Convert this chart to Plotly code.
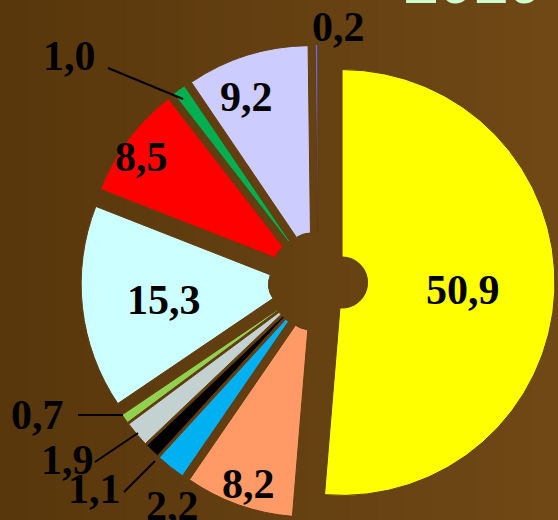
import plotly.graph_objects as go

# ---- data ----
values = [50.9, 8.2, 2.2, 1.1, 1.9, 0.7, 15.3, 8.5, 1.0, 9.2, 0.2]
colors = ["#ffff00", "#ff9966", "#00b0f0", "#000000", "#c3d1d1", "#92d050",
          "#ccffff", "#ff0000", "#00b050", "#ccccff", "#6b6bd6"]
labels = [f"{v:.1f}".replace(".", ",") for v in values]
title_text = "2010 г."

W, H = 558, 520

# label positions in pixels (layout only)
label_px = [(463, 290), (248, 484), (172, 506), (94, 489), (67, 460), (37, 415),
            (164, 300), (141, 157), (69, 56), (246, 97), (338, 27)]
# leader lines in pixels (layout only): index -> (x0, y0, x1, y1)
leaders = {3: (124, 492, 155, 461), 4: (95, 462, 138, 433), 5: (78, 415, 123, 415),
           8: (108, 68, 183, 99)}

def px(x, y):
    return x / W, 1 - y / H

fig = go.Figure()
fig.add_trace(go.Pie(
    values=values,
    labels=labels,
    marker=dict(colors=colors, line=dict(color="#603c0f", width=1)),
    sort=False,
    direction="clockwise",
    rotation=0,
    pull=[0.113] * len(values),
    hole=0.12,
    textinfo="none",
    hoverinfo="label+value",
    showlegend=False,
    domain=dict(x=[0.1452, 0.9946], y=[0.0029, 0.9144]),
))

# background gradient (decoration)
shapes = []
n = 40
c0 = (88, 55, 12)
c1 = (112, 72, 22)
for i in range(n):
    t = i / (n - 1)
    c = tuple(round(a + (b - a) * t) for a, b in zip(c0, c1))
    shapes.append(dict(type="rect", xref="paper", yref="paper",
                       x0=i / n, x1=(i + 1) / n + 0.002, y0=0, y1=1,
                       fillcolor=f"rgb{c}", line=dict(width=0), layer="below"))
for k, (x0, y0, x1, y1) in leaders.items():
    a = px(x0, y0)
    b = px(x1, y1)
    shapes.append(dict(type="line", xref="paper", yref="paper",
                       x0=a[0], y0=a[1], x1=b[0], y1=b[1],
                       line=dict(color="black", width=2), layer="above"))

annotations = []
for lab, (x, y) in zip(labels, label_px):
    p = px(x, y)
    annotations.append(dict(
        x=p[0], y=p[1], xref="paper", yref="paper", text=lab, showarrow=False,
        xanchor="center", yanchor="middle",
        font=dict(family="Liberation Serif, Times New Roman, serif", size=42,
                  color="black", weight="bold")))

annotations.append(dict(
    x=402 / W, y=1 - 18 / H, xref="paper", yref="paper", text=title_text,
    showarrow=False, xanchor="left", yanchor="bottom",
    font=dict(family="Liberation Sans, Arial, sans-serif", size=62,
              color="#ccffcc", weight="bold")))

fig.update_layout(
    width=W, height=H,
    margin=dict(l=0, r=0, t=0, b=0),
    paper_bgcolor="#64400f",
    plot_bgcolor="#64400f",
    shapes=shapes,
    annotations=annotations,
)

fig.write_html(
    "out.html",
    config={"displayModeBar": False},
    post_script="document.body.style.margin='0';document.body.style.overflow='hidden';",
)
